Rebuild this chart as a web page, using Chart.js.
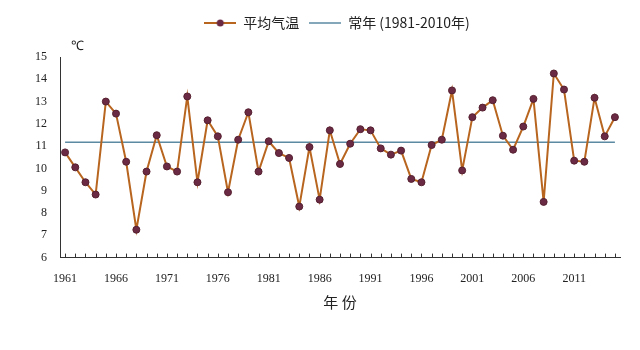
<!DOCTYPE html>
<html>
<head>
<meta charset="utf-8">
<script src="https://cdn.jsdelivr.net/npm/chart.js@4/dist/chart.umd.min.js"></script>
<style>
  body { margin: 0; background: #fff; }
  #chart { display: block; }
</style>
</head>
<body>
<canvas id="chart" width="640" height="350"></canvas>
<script>
// 年份
const years = ['1961','1962','1963','1964','1965','1966','1967','1968','1969','1970',
  '1971','1972','1973','1974','1975','1976','1977','1978','1979','1980',
  '1981','1982','1983','1984','1985','1986','1987','1988','1989','1990',
  '1991','1992','1993','1994','1995','1996','1997','1998','1999','2000',
  '2001','2002','2003','2004','2005','2006','2007','2008','2009','2010',
  '2011','2012','2013','2014','2015'];

// 平均气温 (℃)
const meanTemp = [10.72, 10.05, 9.38, 8.83, 13.0, 12.46, 10.30, 7.25, 9.86, 11.49,
  10.09, 9.86, 13.23, 9.38, 12.16, 11.44, 8.93, 11.29, 12.52, 9.86,
  11.22, 10.69, 10.47, 8.29, 10.96, 8.60, 11.71, 10.20, 11.11, 11.76,
  11.71, 10.90, 10.62, 10.80, 9.53, 9.38, 11.05, 11.29, 13.50, 9.91,
  12.30, 12.73, 13.06, 11.47, 10.84, 11.88, 13.12, 8.50, 14.26, 13.54,
  10.35, 10.30, 13.17, 11.44, 12.30];

// 常年值 (1981-2010年)
const normalTemp = 11.17;

// 横轴标注的年份
const yearTicks = ['1961','1966','1971','1976','1981','1986','1991','1996','2001','2006','2011'];
// 纵轴刻度
const tempMin = 6;
const tempMax = 15;
const tempStep = 1;

const lineColor = '#b8651f';
const dotColor = '#6b2a44';
const normalColor = '#5b8aa2';
const textColor = '#222';

// 图例里的小图标（线+点）
function legendIcon(withDot, color) {
    const c = document.createElement('canvas');
    c.width = 32;
    c.height = 10;
    const g = c.getContext('2d');
    g.strokeStyle = color;
    g.lineWidth = withDot ? 2 : 1.5;
    g.beginPath();
    g.moveTo(0, 5);
    g.lineTo(32, 5);
    g.stroke();
    if (withDot) {
        g.fillStyle = dotColor;
        g.beginPath();
        g.arc(16, 5, 3.5, 0, Math.PI * 2);
        g.fill();
    }
    return c;
}
const legendIcons = [legendIcon(true, lineColor), legendIcon(false, normalColor)];

// 横轴刻度线朝内 + ℃
const axisExtras = {
    id: 'axisExtras',
    afterLayout(chart) {
        // 图例稍微往右挪，与原图一致
        chart.legend.left += 27;
        chart.legend.right += 27;
    },
    afterDatasetsDraw(chart) {
        const ctx = chart.ctx;
        const x = chart.scales.x;
        const area = chart.chartArea;
        ctx.save();
        ctx.strokeStyle = '#333';
        ctx.lineWidth = 1;
        ctx.beginPath();
        years.forEach((y, i) => {
            const px = Math.round(x.getPixelForValue(i)) + 0.5;
            ctx.moveTo(px, area.bottom);
            ctx.lineTo(px, area.bottom - 4);
        });
        ctx.stroke();
        ctx.fillStyle = textColor;
        ctx.font = '13px "Liberation Serif"';
        ctx.textAlign = 'left';
        ctx.textBaseline = 'middle';
        ctx.fillText('℃', area.left + 11, area.top - 10);
        ctx.restore();
    }
};

new Chart(document.getElementById('chart'), {
    type: 'line',
    data: {
        labels: years,
        datasets: [{
            label: '平均气温',
            data: meanTemp,
            borderColor: lineColor,
            borderWidth: 2,
            pointRadius: 3.5,
            pointBackgroundColor: dotColor,
            pointBorderColor: '#55202f',
            pointBorderWidth: 1,
            tension: 0
        }, {
            label: '常年 (1981-2010年)',
            data: [{ x: years[0], y: normalTemp }, { x: years[years.length - 1], y: normalTemp }],
            borderColor: normalColor,
            borderWidth: 1.5,
            pointRadius: 0,
            tension: 0
        }]
    },
    options: {
        responsive: false,
        animation: false,
        layout: {
            padding: { top: 6, left: 0, right: 20, bottom: 5 }
        },
        scales: {
            x: {
                type: 'category',
                offset: true,
                grid: { display: true, drawOnChartArea: false, drawTicks: false },
                border: { display: true, color: '#333', width: 1 },
                ticks: {
                    autoSkip: false,
                    maxRotation: 0,
                    padding: 14,
                    color: textColor,
                    font: { family: 'Liberation Serif', size: 12 },
                    callback: function (value) {
                        const label = this.getLabelForValue(value);
                        return yearTicks.includes(label) ? label : '';
                    }
                },
                title: {
                    display: true,
                    text: '年 份',
                    color: textColor,
                    font: { family: 'Noto Sans CJK SC', size: 15 },
                    padding: { top: -7, bottom: 34 }
                }
            },
            top: {
                type: 'category',
                position: 'top',
                labels: years,
                grid: { display: false },
                border: { display: false },
                ticks: { display: false },
                afterFit: s => { s.height = 17; }
            },
            y: {
                min: tempMin,
                max: tempMax,
                grid: { display: true, drawOnChartArea: false, drawTicks: false },
                border: { display: true, color: '#333', width: 1 },
                ticks: {
                    stepSize: tempStep,
                    padding: 13,
                    color: textColor,
                    font: { family: 'Liberation Serif', size: 12 }
                },
                afterFit: s => { s.width = 60; }
            }
        },
        plugins: {
            legend: {
                position: 'top',
                labels: {
                    usePointStyle: true,
                    pointStyleWidth: 32,
                    padding: 10,
                    color: textColor,
                    font: { family: 'Noto Sans CJK SC', size: 14 },
                    generateLabels: chart => {
                        const items = Chart.defaults.plugins.legend.labels.generateLabels(chart);
                        items.forEach((item, i) => { item.pointStyle = legendIcons[i]; });
                        return items;
                    }
                }
            },
            tooltip: { enabled: false }
        }
    },
    plugins: [axisExtras]
});
</script>
</body>
</html>
